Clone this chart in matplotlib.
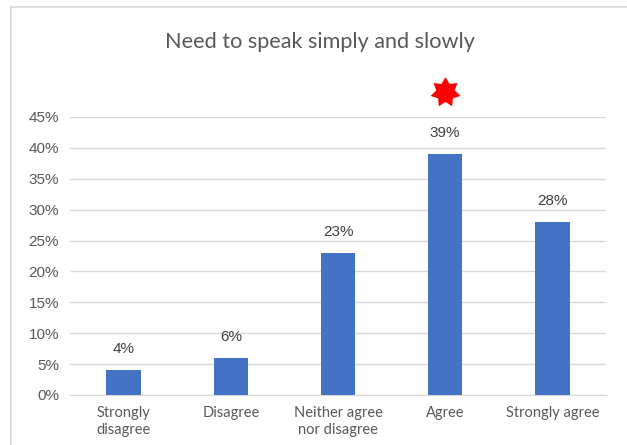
import numpy as np
import matplotlib.pyplot as plt
from matplotlib.lines import Line2D

categories = ['Strongly\ndisagree', 'Disagree', 'Neither agree\nnor disagree', 'Agree', 'Strongly agree']
shares = [4, 6, 23, 39, 28]
yticks = [0, 5, 10, 15, 20, 25, 30, 35, 40, 45]
star_at = 'Agree'

label_font = 'Lato'
num_font = 'Liberation Sans'
grey = '#595959'

# seven-pointed star outline for the marker
ang = np.pi / 2 + np.arange(14) * np.pi / 7
rad = np.where(np.arange(14) % 2 == 0, 1.0, 0.62)
star = list(zip(rad * np.cos(ang), rad * np.sin(ang)))

fig = plt.figure(figsize=(6.27, 4.45), dpi=100)
ax = fig.add_axes([70 / 627, 50 / 445, 536 / 627, 278 / 445])

x = range(len(categories))
ax.bar(x, shares, width=0.32, color='#4472C4', zorder=3)
for i, v in enumerate(shares):
    ax.annotate(f'{v}%', (i, v), xytext=(0, 10), textcoords='offset points',
                ha='center', va='bottom', fontsize=11, color='#404040', family=num_font)

ax.plot(categories.index(star_at), 49.1, marker=star, markersize=22, markeredgewidth=0,
        color='#FF0000', clip_on=False, zorder=4)

ax.set_xlim(-0.5, len(categories) - 0.5)
ax.set_ylim(0, 45)
ax.set_yticks(yticks)
ax.set_yticklabels([f'{t}%' for t in yticks], family=num_font, fontsize=11, color=grey)
ax.set_xticks(list(x))
ax.set_xticklabels(categories, family=label_font, fontsize=10.5, color=grey, linespacing=1.3)
ax.tick_params(length=0, pad=8)
ax.grid(axis='y', color='#D9D9D9', linewidth=1, zorder=0)
for s in ['top', 'right', 'left']:
    ax.spines[s].set_visible(False)
ax.spines['bottom'].set_color('#D9D9D9')

fig.text(320 / 627, 1 - 42 / 445, 'Need to speak simply and slowly', ha='center', va='center',
         fontsize=15.6, color=grey, family=label_font)

# thin chart-area frame along the left and top
fig.add_artist(Line2D([11 / 627, 11 / 627], [0, 1 - 7 / 445], transform=fig.transFigure, color='#D9D9D9', lw=1.2))
fig.add_artist(Line2D([11 / 627, 1], [1 - 7 / 445, 1 - 7 / 445], transform=fig.transFigure, color='#D9D9D9', lw=1.2))

plt.savefig('out.png', dpi=100)
